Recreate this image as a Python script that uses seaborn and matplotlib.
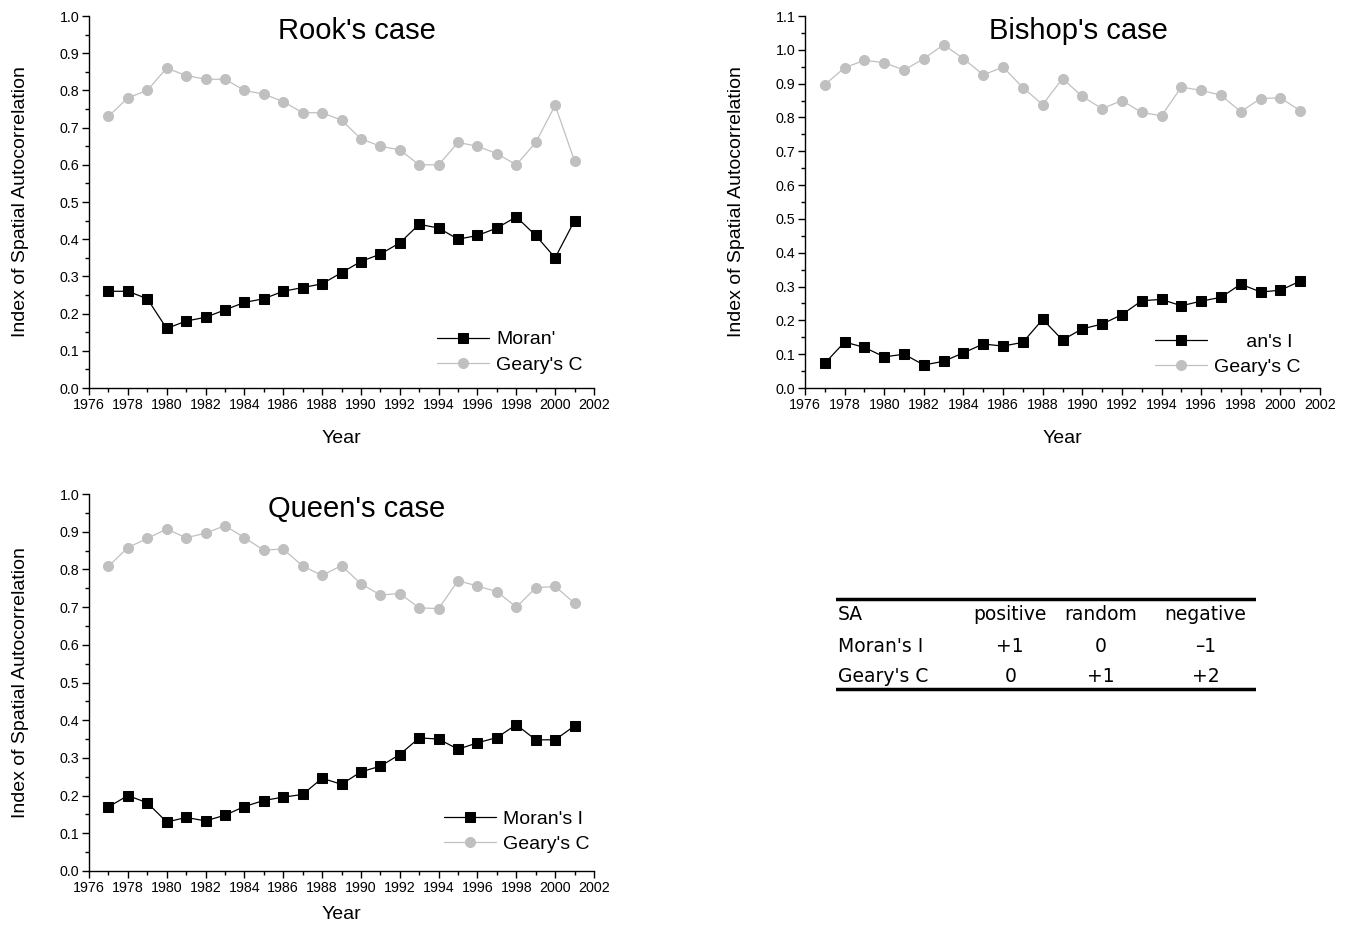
import numpy as np
import pandas as pd
import matplotlib
matplotlib.use("Agg")
import matplotlib.pyplot as plt
from matplotlib.ticker import MultipleLocator
import seaborn as sns

years = list(range(1977, 2002))

rook_moran = [0.26, 0.26, 0.24, 0.16, 0.18, 0.19, 0.21, 0.23, 0.24, 0.26, 0.27, 0.28, 0.31,
              0.34, 0.36, 0.39, 0.44, 0.43, 0.40, 0.41, 0.43, 0.46, 0.41, 0.35, 0.45]
rook_geary = [0.73, 0.78, 0.80, 0.86, 0.84, 0.83, 0.83, 0.80, 0.79, 0.77, 0.74, 0.74, 0.72,
              0.67, 0.65, 0.64, 0.60, 0.60, 0.66, 0.65, 0.63, 0.60, 0.66, 0.76, 0.61]

bishop_moran = [0.073, 0.136, 0.120, 0.092, 0.100, 0.068, 0.079, 0.104, 0.130, 0.124, 0.135,
                0.203, 0.142, 0.175, 0.189, 0.217, 0.258, 0.262, 0.243, 0.257, 0.268, 0.307,
                0.284, 0.289, 0.316]
bishop_geary = [0.897, 0.947, 0.969, 0.962, 0.940, 0.974, 1.015, 0.974, 0.926, 0.949, 0.888,
                0.838, 0.915, 0.862, 0.826, 0.850, 0.815, 0.805, 0.890, 0.880, 0.866, 0.817,
                0.856, 0.858, 0.820]

queen_moran = [0.170, 0.200, 0.181, 0.130, 0.142, 0.133, 0.148, 0.171, 0.187, 0.196, 0.203,
               0.246, 0.230, 0.263, 0.278, 0.309, 0.353, 0.350, 0.323, 0.340, 0.354, 0.388,
               0.348, 0.348, 0.385]
queen_geary = [0.808, 0.858, 0.882, 0.907, 0.884, 0.896, 0.916, 0.884, 0.851, 0.854, 0.809,
               0.784, 0.810, 0.762, 0.732, 0.736, 0.698, 0.696, 0.770, 0.756, 0.741, 0.700,
               0.751, 0.755, 0.710]

titles = ["Rook's case", "Bishop's case", "Queen's case"]
moran_labels = ["Moran'", "      an's I", "Moran's I"]
geary_label = "Geary's C"
ymax = [1.0, 1.1, 1.0]

table_header = ["SA", "positive", "random", "negative"]
table_rows = [["Moran's I", "+1", "0", "\u20131"],
              ["Geary's C", "0", "+1", "+2"]]

sns.set_theme(style="ticks")
plt.rcParams["font.family"] = ["Liberation Sans", "DejaVu Sans"]
plt.rcParams["axes.linewidth"] = 1.0
for k in ["text.color", "axes.labelcolor", "xtick.color", "ytick.color", "axes.edgecolor"]:
    plt.rcParams[k] = "black"

fig = plt.figure(figsize=(13.45, 9.26), dpi=100)
W, H = 1345, 926

def px_axes(x0, x1, ytop, ybot):
    return fig.add_axes([x0 / W, 1 - ybot / H, (x1 - x0) / W, (ybot - ytop) / H])

axes = [px_axes(89, 594, 16, 388), px_axes(805, 1320, 16, 388), px_axes(89, 594, 494, 871)]
data = [(rook_moran, rook_geary), (bishop_moran, bishop_geary), (queen_moran, queen_geary)]
leg_anchor = [(0.977, 0.038), (0.962, 0.032), (0.991, 0.047)]
xpad = [13, 13, 8]

gray = "#c0c0c0"
for i, ax in enumerate(axes):
    m, g = data[i]
    sns.lineplot(x=years, y=m, ax=ax, color="black", marker="s", markersize=6.8,
                 markeredgecolor="black", linewidth=0.9, label=moran_labels[i])
    sns.lineplot(x=years, y=g, ax=ax, color=gray, marker="o", markersize=7.2,
                 markeredgecolor=gray, linewidth=0.9, label=geary_label)
    ax.set_xlim(1976, 2002)
    ax.set_ylim(0, ymax[i])
    ax.xaxis.set_major_locator(MultipleLocator(2))
    ax.xaxis.set_minor_locator(MultipleLocator(1))
    ax.yaxis.set_major_locator(MultipleLocator(0.1))
    ax.yaxis.set_minor_locator(MultipleLocator(0.05))
    ax.yaxis.set_major_formatter(matplotlib.ticker.FormatStrFormatter("%.1f"))
    ax.tick_params(axis="both", which="major", direction="out", length=5, width=1,
                   labelsize=10.3, color="black", labelcolor="black", pad=2)
    ax.tick_params(axis="both", which="minor", direction="out", length=3, width=1, color="black")
    sns.despine(ax=ax)
    ax.set_xlabel("Year", fontsize=14, labelpad=xpad[i])
    ax.set_ylabel("Index of Spatial Autocorrelation", fontsize=14, labelpad=22)
    ax.text(0.53, 0.96, titles[i], transform=ax.transAxes, ha="center", va="center",
            fontsize=21)
    ax.legend(loc="lower right", bbox_to_anchor=leg_anchor[i], frameon=False, fontsize=14,
              handlelength=2.65, handletextpad=0.36, labelspacing=0.4, borderaxespad=0,
              borderpad=0)

# table of interpretation
tax = fig.add_axes([836 / W, 1 - 692 / H, (1256 - 836) / W, (692 - 595) / H])
tax.set_xlim(0, 1)
tax.set_ylim(0, 1)
tax.axis("off")
tax.axhline(0.96, color="black", linewidth=2.5)
tax.axhline(0.03, color="black", linewidth=2.5)
col_x = [0.005, 0.415, 0.63, 0.88]
row_y = [0.80, 0.47, 0.16]
tfont = ["DejaVu Sans"]
for j, h in enumerate(table_header):
    tax.text(col_x[j], row_y[0], h, ha="left" if j == 0 else "center", va="center",
             fontsize=13.5, family=tfont)
for r, row in enumerate(table_rows):
    for j, v in enumerate(row):
        tax.text(col_x[j], row_y[r + 1], v, ha="left" if j == 0 else "center", va="center",
                 fontsize=13.5, family=tfont)

fig.savefig("out.png", dpi=100)
